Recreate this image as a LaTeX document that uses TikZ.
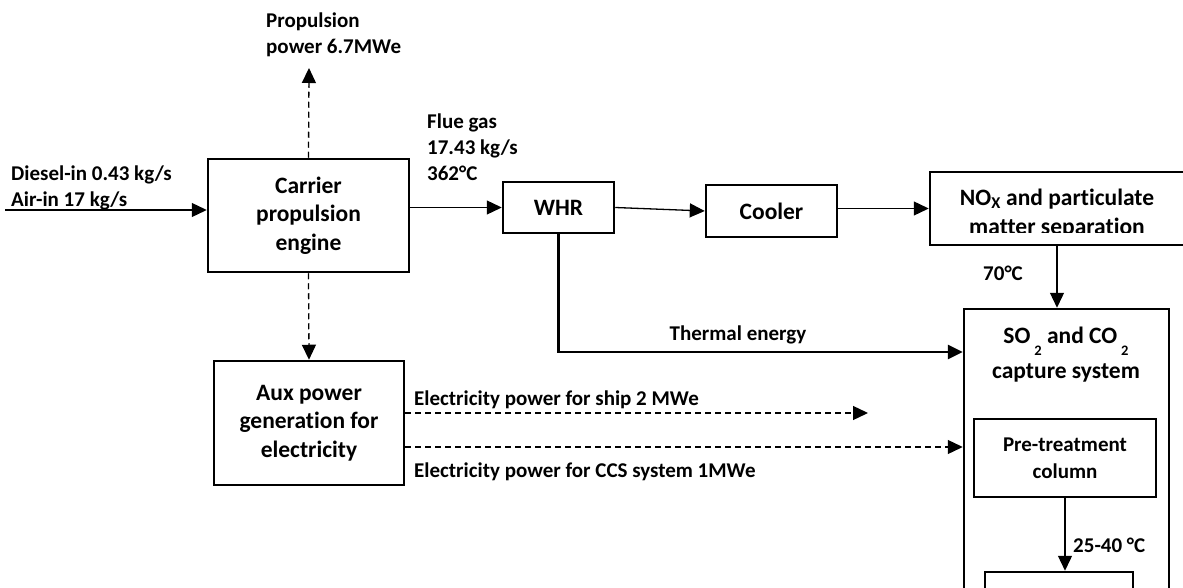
\documentclass[tikz,border=0pt]{standalone}
\usepackage{fontspec}
\setmainfont{Carlito}[Ligatures=NoCommon]
\usetikzlibrary{arrows.meta}
\begin{document}
\begin{tikzpicture}[x=1pt,y=-1pt,
  box/.style={draw, line width=2.5pt, inner sep=0pt, align=center, font=\bfseries\fontsize{23.5}{28.5}\selectfont},
  boxtxt/.style={inner sep=0pt, align=center, font=\bfseries\fontsize{23.5}{28.5}\selectfont},
  lbl/.style={inner sep=0pt, align=left, font=\bfseries\fontsize{21}{26}\selectfont},
  flow/.style={line width=1.3pt, -{Triangle[length=15pt,width=14pt]}},
  eflow/.style={flow, dash pattern=on 6pt off 4pt},
]
\clip (0,0) rectangle (1183,588);
\fill[white] (0,0) rectangle (1183,588);
% boxes
\node[box, minimum width=201pt, minimum height=113pt] (engine) at (308.5,215.5) {Carrier\\propulsion\\engine};
\node[box, minimum width=111pt, minimum height=51pt] (whr) at (558.5,207.5) {WHR};
\node[box, minimum width=131pt, minimum height=52pt] (cooler) at (771.5,211) {Cooler};
\node[box, minimum width=254pt, minimum height=73pt] (nox) at (1057,208.5) {};
\begin{scope}
  \clip (930,172) rectangle (1183,232.5);
  \node[boxtxt, font=\bfseries\fontsize{23.5}{29.5}\selectfont] (noxtext) at (1057,213.5) {NO\textsubscript{X} and particulate\\matter separation};
\end{scope}
\node[box, minimum width=205pt, minimum height=300pt] (cap) at (1066.5,459) {};
\node[boxtxt] (captitle) at (1066,355) {SO\,\raisebox{-12pt}[0pt][0pt]{\fontsize{14.5}{14.5}\selectfont 2} and CO\,\raisebox{-12pt}[0pt][0pt]{\fontsize{14.5}{14.5}\selectfont 2}\\[6.5pt]capture system};
\node[box, font=\bfseries\fontsize{21}{27}\selectfont, minimum width=182pt, minimum height=78pt] (pre) at (1065,458) {Pre-treatment\\column};
\node[box, minimum width=148pt, minimum height=60pt] (bot) at (1059,602) {};
\node[box, minimum width=190pt, minimum height=124pt] (aux) at (309,423) {Aux power\\generation for\\electricity};
% free ends
\coordinate (dieselin) at (5,210);
\coordinate (propout) at (309,68);
\coordinate (shipout) at (868,413);
\coordinate (thermalin) at (cap.north west |- 0,352);
\coordinate (ccsin) at (cap.north west |- 0,447);
% connectors
\draw[flow] (dieselin) -- (dieselin -| engine.west);
\draw[flow] (engine.east |- whr.west) -- (whr.west);
\draw[flow] (whr.east) -- (cooler.west);
\draw[flow] (cooler.east |- nox.west) -- (nox.west);
\draw[flow] (nox.south) -- (nox.south |- cap.north);
\draw[flow, line width=2.8pt] (whr.south) |- (thermalin);
\draw[eflow] (engine.north) -- (propout);
\draw[eflow] (engine.south) -- (aux.north);
\draw[eflow] (aux.east |- shipout) -- (shipout);
\draw[eflow] (aux.east |- ccsin) -- (ccsin);
\draw[flow] (pre.south) -- (pre.south |- bot.north);
% labels
\node[lbl, anchor=west] (proplbl) at (266,35) {Propulsion\\power 6.7MWe};
\node[lbl, anchor=west] (fluelbl) at (427,147) {Flue gas\\17.43 kg/s\\362°C};
\node[lbl, anchor=west] (inlbl) at (11,187.5) {Diesel-in 0.43 kg/s\\Air-in 17 kg/s};
\node[lbl] (thlbl) at (738,335) {Thermal energy};
\node[lbl, anchor=west] (shiplbl) at (414,400) {Electricity power for ship 2 MWe};
\node[lbl, anchor=west] (ccslbl) at (414,472) {Electricity power for CCS system 1MWe};
\node[lbl, anchor=west] (templbl) at (1073,545) {25-40 °C};
\node[lbl, anchor=west] (t70) at (983,273) {70°C};
\end{tikzpicture}
\end{document}
